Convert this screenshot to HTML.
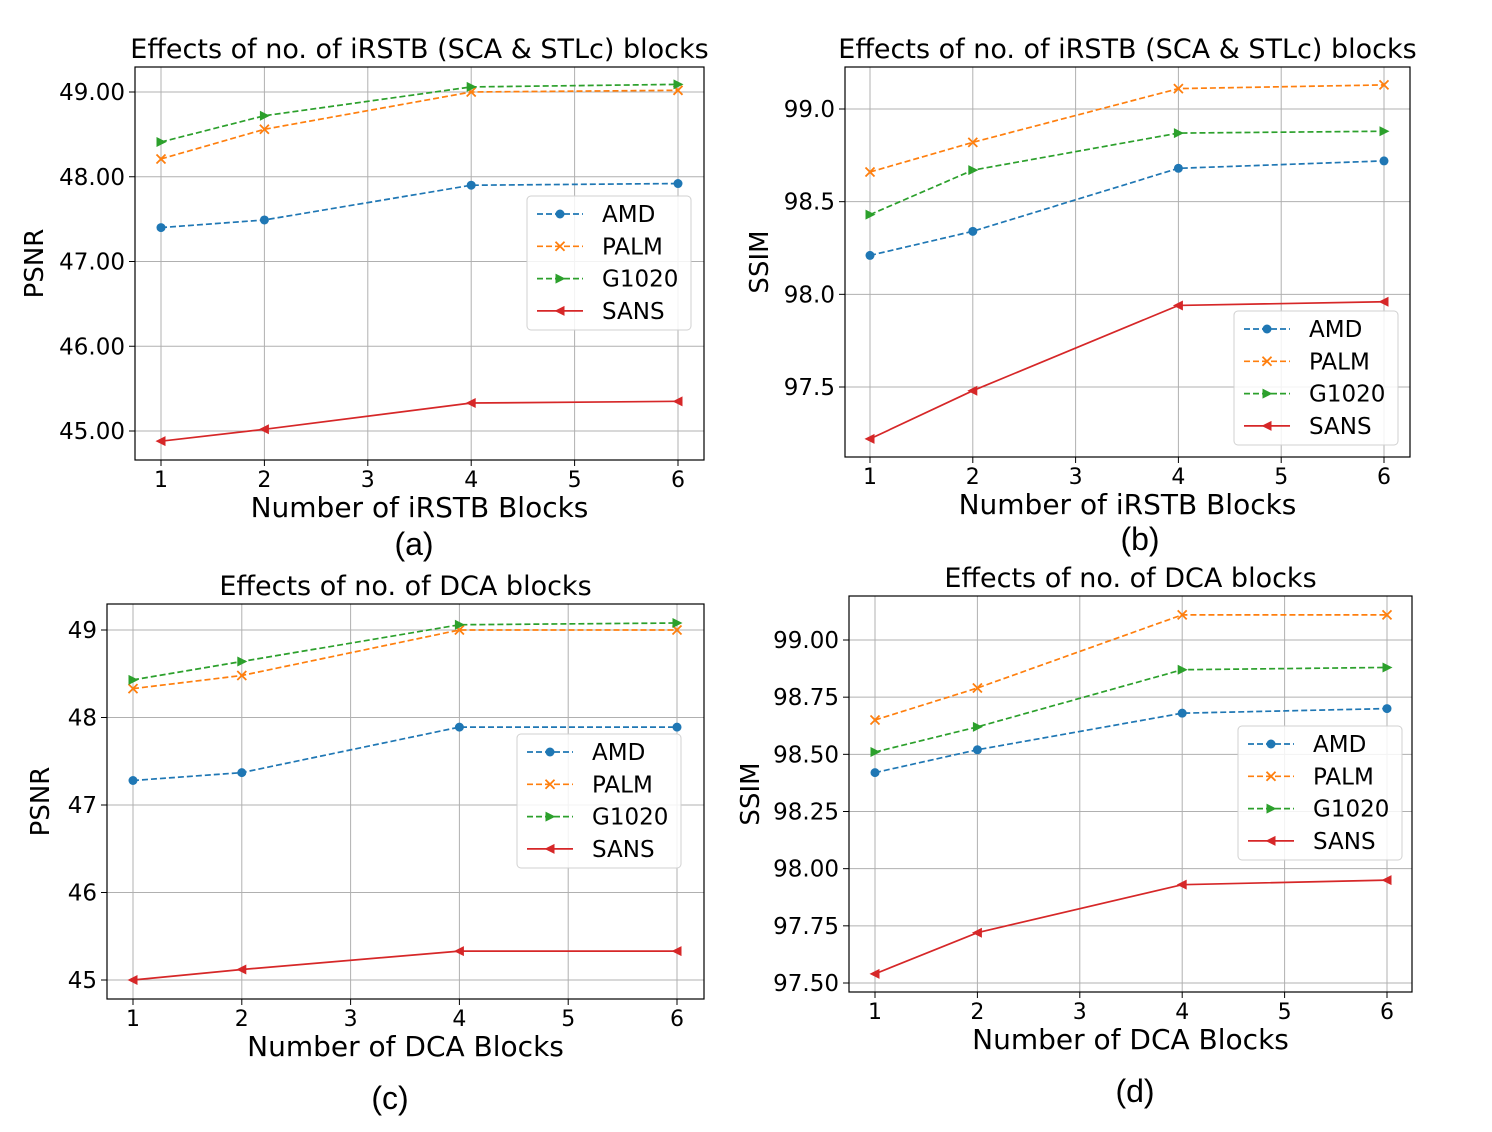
<!DOCTYPE html>
<html><head><meta charset="utf-8"><style>
body{margin:0;background:#fff;}
svg{display:block;font-family:"DejaVu Sans","Liberation Sans",sans-serif;}
</style></head><body>
<svg id="s" width="1492" height="1132" viewBox="0 0 1492 1132"></svg>
<script>
const xVals=[1,2,4,6];
const seriesNames=["AMD","PALM","G1020","SANS"];
const aAMD=[47.40,47.49,47.90,47.92], aPALM=[48.21,48.56,49.00,49.02], aG1020=[48.41,48.72,49.06,49.09], aSANS=[44.88,45.02,45.33,45.35];
const bAMD=[98.21,98.34,98.68,98.72], bPALM=[98.66,98.82,99.11,99.13], bG1020=[98.43,98.67,98.87,98.88], bSANS=[97.22,97.48,97.94,97.96];
const cAMD=[47.28,47.37,47.89,47.89], cPALM=[48.33,48.48,49.00,49.00], cG1020=[48.43,48.64,49.06,49.08], cSANS=[45.00,45.12,45.33,45.33];
const dAMD=[98.42,98.52,98.68,98.70], dPALM=[98.65,98.79,99.11,99.11], dG1020=[98.51,98.62,98.87,98.88], dSANS=[97.54,97.72,97.93,97.95];
const xTicks=[1,2,3,4,5,6];
const aYTicks=[45,46,47,48,49], bYTicks=[97.5,98.0,98.5,99.0], cYTicks=[45,46,47,48,49], dYTicks=[97.5,97.75,98,98.25,98.5,98.75,99];
const colors=["#1f77b4","#ff7f0e","#2ca02c","#d62728"];
const NS="http://www.w3.org/2000/svg";
const svg=document.getElementById('s');
function mk(tag,attrs,parent,text){const e=document.createElementNS(NS,tag);for(const k in attrs)e.setAttribute(k,attrs[k]);if(text!==undefined)e.textContent=text;(parent||svg).appendChild(e);return e;}
function marker(g,kind,x,y,c){
  if(kind===0){mk('circle',{cx:x,cy:y,r:4.5,fill:c},g);}
  else if(kind===1){mk('path',{d:`M${x-4.5},${y-4.5}L${x+4.5},${y+4.5}M${x-4.5},${y+4.5}L${x+4.5},${y-4.5}`,stroke:c,'stroke-width':1.8},g);}
  else if(kind===2){mk('polygon',{points:`${x+5.5},${y} ${x-4.5},${y-5} ${x-4.5},${y+5}`,fill:c},g);}
  else {mk('polygon',{points:`${x-5.5},${y} ${x+4.5},${y-5} ${x+4.5},${y+5}`,fill:c},g);}
}
function panel(p){
  const g=mk('g',{});
  
  
  const X=v=>p.x1+(v-1)*(p.x6-p.x1)/5;
  const Y=v=>p.yA+(v-p.vA)*(p.yB-p.yA)/(p.vB-p.vA);
  p.yTicks.forEach(t=>{const y=Y(t);
    const gl=mk('line',{x1:p.L,x2:p.R,y1:y,y2:y,stroke:'#b0b0b0','stroke-width':1},g);
    
    mk('line',{x1:p.L-6,x2:p.L,y1:y,y2:y,stroke:'#000'},g);
    const tl=mk('text',{x:p.L-10,y:y+8,'text-anchor':'end','font-size':23},g,t.toFixed(p.dec));
    });
  xTicks.forEach(t=>{const x=X(t);
    mk('line',{x1:x,x2:x,y1:p.T,y2:p.B,stroke:'#b0b0b0'},g);
    mk('line',{x1:x,x2:x,y1:p.B,y2:p.B+6,stroke:'#000'},g);
    const tl=mk('text',{x:x,y:p.B+27,'text-anchor':'middle','font-size':22},g,t);
    });
  p.series.forEach((s,i)=>{
    const pts=s.map((v,j)=>X(xVals[j])+','+Y(v)).join(' ');
    const pl=mk('polyline',{points:pts,fill:'none',stroke:colors[i],'stroke-width':1.7,'stroke-dasharray':i<3?'6,3':''},g);
    
    s.forEach((v,j)=>marker(g,i,X(xVals[j]),Y(v),colors[i]));
  });
  mk('rect',{x:p.L,y:p.T,width:p.R-p.L,height:p.B-p.T,fill:'none',stroke:'#000','stroke-width':1.2},g);
  const tt=mk('text',{x:(p.L+p.R)/2,y:p.T-9,'text-anchor':'middle','font-size':27},g,p.title);
  
  const xl=mk('text',{x:(p.L+p.R)/2,y:p.B+57,'text-anchor':'middle','font-size':28},g,p.xlabel);
  
  const yc=(p.T+p.B)/2;
  const yl=mk('text',{x:p.ylx,y:yc,'text-anchor':'middle','font-size':26,transform:`rotate(-90 ${p.ylx} ${yc})`},g,p.ylabel);
  
  const cap=mk('text',{x:p.capx,y:p.capy,'text-anchor':'middle','font-size':32,'font-family':'Liberation Sans,sans-serif'},g,'('+p.id+')');
  
  const lg=mk('g',{},g);
  
  mk('rect',{x:p.lx,y:p.ly,width:164,height:134,rx:4,fill:'#fff',stroke:'#d0d0d0','fill-opacity':0.85},lg);
  seriesNames.forEach((n,i)=>{const yy=p.ly+18+i*32.3;
    const e=mk('g',{},lg);
    
    mk('line',{x1:p.lx+10,x2:p.lx+56,y1:yy,y2:yy,stroke:colors[i],'stroke-width':1.7,'stroke-dasharray':i<3?'6,3':''},e);
    marker(e,i,p.lx+33,yy,colors[i]);
    mk('text',{x:p.lx+75,y:yy+8,'font-size':23},e,n);});
}
panel({id:'a',L:135,R:704,T:67,B:460,x1:161,x6:678,vA:49,yA:92,vB:45,yB:431,dec:2,yTicks:aYTicks,series:[aAMD,aPALM,aG1020,aSANS],title:'Effects of no. of iRSTB (SCA & STLc) blocks',xlabel:'Number of iRSTB Blocks',ylabel:'PSNR',ylx:43,capx:414,capy:555,lx:527,ly:196});
panel({id:'b',L:845,R:1410,T:67,B:457,x1:870,x6:1384,vA:99,yA:109,vB:97.5,yB:387,dec:1,yTicks:bYTicks,series:[bAMD,bPALM,bG1020,bSANS],title:'Effects of no. of iRSTB (SCA & STLc) blocks',xlabel:'Number of iRSTB Blocks',ylabel:'SSIM',ylx:768,capx:1140,capy:550,lx:1234,ly:311});
panel({id:'c',L:107,R:704,T:604,B:999,x1:133,x6:677,vA:49,yA:630,vB:45,yB:980,dec:0,yTicks:cYTicks,series:[cAMD,cPALM,cG1020,cSANS],title:'Effects of no. of DCA blocks',xlabel:'Number of DCA Blocks',ylabel:'PSNR',ylx:49,capx:390,capy:1109,lx:517,ly:734});
panel({id:'d',L:849,R:1412,T:596,B:992,x1:875,x6:1387,vA:99,yA:640,vB:97.5,yB:983,dec:2,yTicks:dYTicks,series:[dAMD,dPALM,dG1020,dSANS],title:'Effects of no. of DCA blocks',xlabel:'Number of DCA Blocks',ylabel:'SSIM',ylx:759,capx:1135,capy:1102,lx:1238,ly:726});
</script>
</body></html>
